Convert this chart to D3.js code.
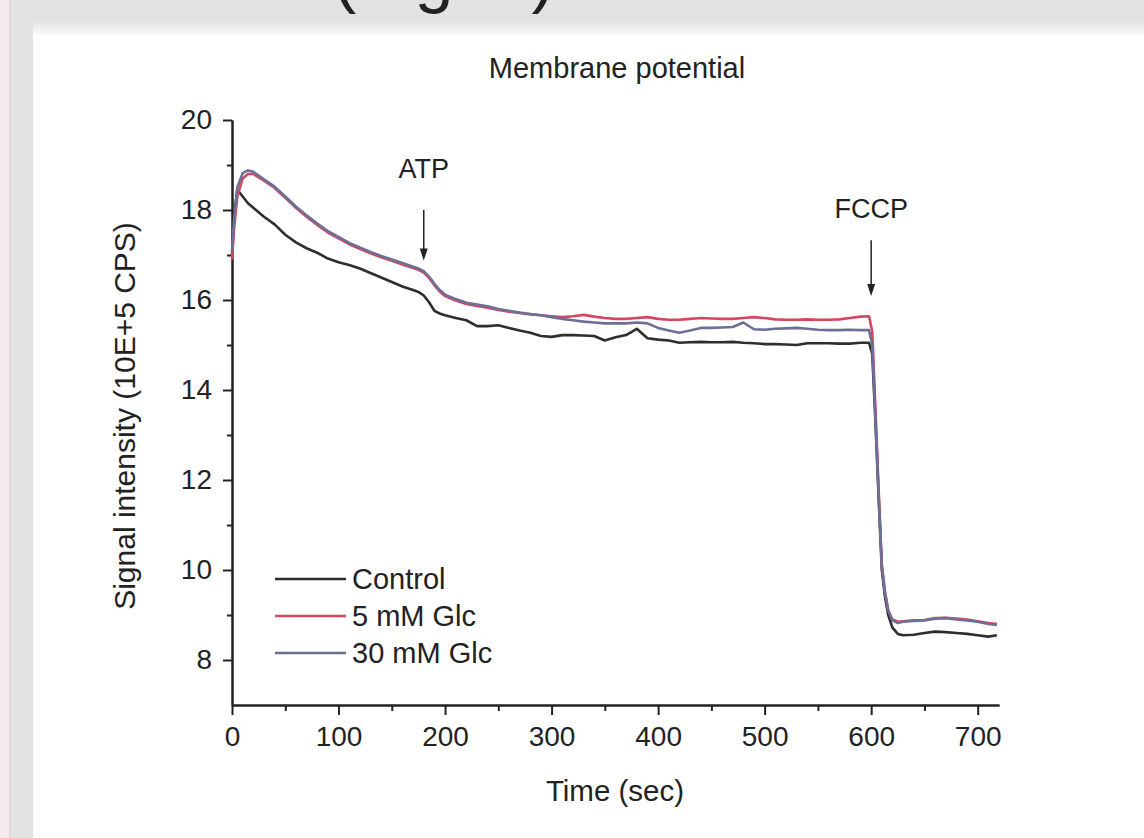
<!DOCTYPE html>
<html>
<head>
<meta charset="utf-8">
<script src="https://cdn.jsdelivr.net/npm/d3@7"></script>
<style>
  html, body { margin: 0; padding: 0; background: #e2e2e2; }
  svg { display: block; }
  text { font-family: "Liberation Sans", Arial, sans-serif; fill: #222; }
</style>
</head>
<body>
<div id="chart"></div>
<script>
// time points (sec) shared by the three traces
var times = [0, 2, 5, 10, 15, 20, 30, 40, 50, 60, 70, 80, 90, 100, 110, 120, 130, 140, 150, 160,
  170, 175, 180, 185, 190, 195, 200, 210, 220, 230, 240, 250, 260, 270, 280, 290, 300, 310, 320,
  330, 340, 350, 360, 370, 380, 390, 400, 410, 420, 430, 440, 450, 460, 470, 480, 490, 500, 510,
  520, 530, 540, 550, 560, 570, 580, 590, 598, 601, 604, 607, 610, 613, 616, 620, 625, 630, 640,
  650, 660, 670, 680, 690, 700, 710, 718];

var control = [17.0, 17.9, 18.45, 18.3, 18.15, 18.05, 17.85, 17.68, 17.45, 17.28, 17.15, 17.05,
  16.92, 16.84, 16.78, 16.70, 16.60, 16.50, 16.40, 16.30, 16.22, 16.18, 16.10, 15.95, 15.76, 15.70,
  15.66, 15.60, 15.55, 15.42, 15.42, 15.44, 15.38, 15.32, 15.27, 15.20, 15.18, 15.22, 15.22, 15.21,
  15.20, 15.10, 15.17, 15.22, 15.36, 15.15, 15.12, 15.10, 15.05, 15.06, 15.07, 15.06, 15.06, 15.07,
  15.05, 15.04, 15.02, 15.02, 15.01, 15.00, 15.04, 15.04, 15.04, 15.03, 15.03, 15.05, 15.05, 14.8,
  13.3, 11.6, 10.0, 9.4, 9.0, 8.72, 8.58, 8.55, 8.56, 8.60, 8.63, 8.62, 8.60, 8.58, 8.55, 8.52, 8.55];

var glc5 = [16.9, 17.6, 18.3, 18.7, 18.8, 18.8, 18.65, 18.49, 18.27, 18.05, 17.85, 17.67, 17.50,
  17.37, 17.24, 17.14, 17.04, 16.95, 16.87, 16.79, 16.71, 16.67, 16.61, 16.49, 16.33, 16.19, 16.09,
  15.99, 15.91, 15.87, 15.83, 15.78, 15.74, 15.71, 15.68, 15.66, 15.64, 15.62, 15.64, 15.67, 15.63,
  15.60, 15.58, 15.58, 15.60, 15.62, 15.58, 15.56, 15.56, 15.58, 15.60, 15.59, 15.58, 15.58, 15.60,
  15.62, 15.60, 15.57, 15.56, 15.56, 15.57, 15.56, 15.56, 15.57, 15.60, 15.63, 15.64, 15.3, 13.6,
  11.8, 10.1, 9.5, 9.1, 8.9, 8.85, 8.86, 8.88, 8.89, 8.93, 8.94, 8.92, 8.90, 8.86, 8.82, 8.80];

var glc30 = [17.1, 17.8, 18.5, 18.82, 18.88, 18.85, 18.68, 18.52, 18.30, 18.08, 17.88, 17.70, 17.53,
  17.40, 17.27, 17.17, 17.07, 16.98, 16.90, 16.82, 16.74, 16.70, 16.64, 16.52, 16.36, 16.22, 16.12,
  16.02, 15.94, 15.90, 15.86, 15.80, 15.76, 15.72, 15.69, 15.66, 15.62, 15.58, 15.55, 15.52, 15.50,
  15.48, 15.48, 15.48, 15.50, 15.48, 15.38, 15.32, 15.27, 15.32, 15.38, 15.38, 15.39, 15.40, 15.50,
  15.35, 15.34, 15.36, 15.37, 15.38, 15.36, 15.34, 15.33, 15.33, 15.34, 15.33, 15.33, 15.0, 13.4,
  11.7, 10.1, 9.5, 9.1, 8.88, 8.82, 8.85, 8.87, 8.88, 8.92, 8.93, 8.90, 8.88, 8.85, 8.80, 8.78];

var seriesNames = ["Control", "5 mM Glc", "30 mM Glc"];
var seriesColors = ["#2e2e2e", "#d4475f", "#6c6f98"];
var xTicks = [0, 100, 200, 300, 400, 500, 600, 700];
var xMinor = [50, 150, 250, 350, 450, 550, 650];
var yTicks = [8, 10, 12, 14, 16, 18, 20];
var yMinor = [9, 11, 13, 15, 17, 19];

// additions marked by arrows: time, label level, arrow top, arrow tip (signal units)
var additions = [
  {label: "ATP", t: 180, labelV: 18.93, fromV: 18.0, toV: 16.88},
  {label: "FCCP", t: 600, labelV: 18.04, fromV: 17.33, toV: 16.09}
];

var W = 1144, H = 838;
var svg = d3.select("#chart").append("svg")
  .attr("width", W)
  .attr("height", H);

// page background, left strip, white panel with a soft top shadow
svg.append("rect").attr("width", W).attr("height", H).attr("fill", "#e2e2e2");
svg.append("rect").attr("x", 0).attr("y", 0).attr("width", 9).attr("height", H).attr("fill", "#f3ecee");
svg.append("rect").attr("x", 9).attr("y", 0).attr("width", 2).attr("height", H).attr("fill", "#e6d6da");
var defs = svg.append("defs");
var grad = defs.append("linearGradient").attr("id", "shade").attr("x1", 0).attr("y1", 0).attr("x2", 0).attr("y2", 1);
grad.append("stop").attr("offset", "0%").attr("stop-color", "#e2e2e2");
grad.append("stop").attr("offset", "100%").attr("stop-color", "#fbfbfb");
svg.append("rect").attr("x", 33).attr("y", 20).attr("width", W - 33).attr("height", 15).attr("fill", "url(#shade)");
svg.append("rect").attr("x", 33).attr("y", 35).attr("width", W - 33).attr("height", H - 35).attr("fill", "#ffffff");

// heading cut off by the top of the picture (as in the source)
svg.append("text")
  .attr("x", 333).attr("y", -1)
  .style("font-size", "70px")
  .text("(Fig. 1)");

var x = d3.scaleLinear().domain([0, 720]).range([232, 999]);
var y = d3.scaleLinear().domain([7, 20]).range([705, 120]);

// title
svg.append("text")
  .attr("x", 617).attr("y", 78)
  .attr("text-anchor", "middle")
  .style("font-size", "29px")
  .text("Membrane potential");

// axes
function styleAxis(g) {
  g.select(".domain").attr("stroke", "#222").attr("stroke-width", 2);
  g.selectAll(".tick line").attr("stroke", "#222").attr("stroke-width", 2);
  g.selectAll(".tick text").style("font-size", "28px").attr("fill", "#222").attr("font-family", null);
}

svg.append("g")
  .attr("transform", "translate(0,705)")
  .call(d3.axisBottom(x).tickValues(xMinor).tickSize(6).tickSizeOuter(0).tickFormat(""))
  .call(styleAxis);
svg.append("g")
  .attr("transform", "translate(232,0)")
  .call(d3.axisLeft(y).tickValues(yMinor).tickSize(5).tickSizeOuter(0).tickFormat(""))
  .call(styleAxis);

svg.append("g")
  .attr("transform", "translate(0,705)")
  .call(d3.axisBottom(x).tickValues(xTicks).tickSize(10).tickPadding(11).tickSizeOuter(0))
  .call(styleAxis);
svg.append("g")
  .attr("transform", "translate(232,0)")
  .call(d3.axisLeft(y).tickValues(yTicks).tickSize(9).tickPadding(11).tickSizeOuter(0))
  .call(styleAxis);

// axis titles
svg.append("text")
  .attr("x", 615).attr("y", 801)
  .attr("text-anchor", "middle")
  .style("font-size", "29.5px")
  .text("Time (sec)");

svg.append("text")
  .attr("transform", "translate(135,416) rotate(-90)")
  .attr("text-anchor", "middle")
  .style("font-size", "30px")
  .text("Signal intensity (10E+5 CPS)");

// traces
var allSeries = [control, glc5, glc30];
var line = d3.line()
  .x(function(d) { return x(d[0]); })
  .y(function(d) { return y(d[1]); });

allSeries.forEach(function(vals, i) {
  svg.append("path")
    .datum(times.map(function(t, j) { return [t, vals[j]]; }))
    .attr("fill", "none")
    .attr("stroke", seriesColors[i])
    .attr("stroke-width", 2.6)
    .attr("stroke-linejoin", "round")
    .attr("d", line);
});

// addition arrows
additions.forEach(function(a) {
  var ax = x(a.t);
  svg.append("text")
    .attr("x", ax).attr("y", y(a.labelV) + 10)
    .attr("text-anchor", "middle")
    .style("font-size", "27px")
    .text(a.label);
  svg.append("line")
    .attr("x1", ax).attr("x2", ax)
    .attr("y1", y(a.fromV)).attr("y2", y(a.toV) - 8)
    .attr("stroke", "#222").attr("stroke-width", 1.5);
  svg.append("path")
    .attr("d", "M" + (ax - 4) + "," + (y(a.toV) - 12) + "L" + (ax + 4) + "," + (y(a.toV) - 12) + "L" + ax + "," + y(a.toV) + "Z")
    .attr("fill", "#222");
});

// legend
var legend = svg.append("g");
seriesNames.forEach(function(name, i) {
  var ly = 579 + i * 37;
  legend.append("line")
    .attr("x1", 275).attr("x2", 346)
    .attr("y1", ly).attr("y2", ly)
    .attr("stroke", seriesColors[i]).attr("stroke-width", 2.6);
  legend.append("text")
    .attr("x", 352).attr("y", ly + 10)
    .style("font-size", "29px")
    .text(name);
});
</script>
</body>
</html>
